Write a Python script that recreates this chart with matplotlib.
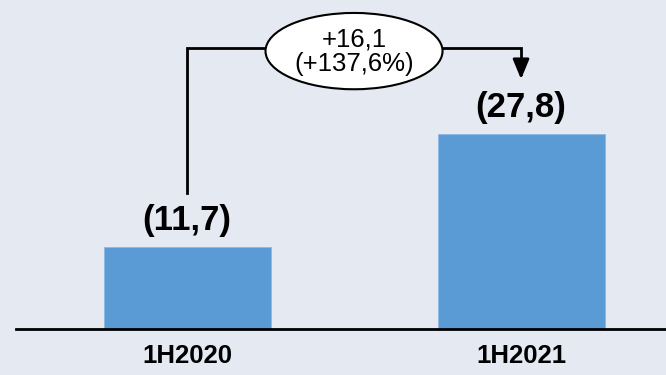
import matplotlib

matplotlib.use('agg')

import matplotlib.pyplot as plt
from matplotlib.patches import Ellipse

periods = ["1H2020", "1H2021"]
values = [11.7, 27.8]
value_labels = ["(11,7)", "(27,8)"]
delta_label = "+16,1\n(+137,6%)"

bg = "#E4E9F2"
bar_color = "#5B9BD5"

plt.rcParams['font.family'] = ['Liberation Sans', 'DejaVu Sans']

fig = plt.figure(figsize=(6.66, 3.75), dpi=100, facecolor=bg)
ax = fig.add_axes([16 / 666, 1 - 329 / 375, 650 / 666, 329 / 375])
ax.set_facecolor(bg)

x = list(range(len(periods)))
ax.bar(x, values, width=0.5, color=bar_color, edgecolor="#8DB8E3", linewidth=0.6, zorder=2)
ax.set_xlim(-0.512, 1.434)
ax.set_ylim(0, 47.0)

for xi, v, lab in zip(x, values, value_labels):
    ax.text(xi, v + 1.5, lab, ha='center', va='bottom', fontsize=25, fontweight='bold')

# bracket connecting the two periods
top = 40.1
ax.plot([x[0], x[0], x[1], x[1]], [values[0] + 7.7, top, top, 36.5],
        color='black', lw=2, solid_joinstyle='miter', zorder=3)
ax.annotate('', xy=(x[1], 35.7), xytext=(x[1], 38.3),
            arrowprops=dict(arrowstyle='-|>,head_width=0.5,head_length=1.2',
                            color='black', lw=2, shrinkA=0, shrinkB=0), zorder=4)
ax.add_patch(Ellipse((0.5, 39.7), 0.53, 10.9, facecolor='white',
                     edgecolor='black', lw=1.5, zorder=5))
ax.text(0.5, 39.6, delta_label, ha='center', va='center', fontsize=18.5,
        linespacing=1.0, zorder=6)

for s in ['top', 'right', 'left']:
    ax.spines[s].set_visible(False)
ax.spines['bottom'].set_linewidth(2)
ax.set_yticks([])
ax.set_xticks(x)
ax.set_xticklabels(periods, fontsize=18.5, fontweight='bold')
ax.tick_params(axis='x', length=0, pad=11)

fig.savefig('out.png', dpi=100, facecolor=bg)
